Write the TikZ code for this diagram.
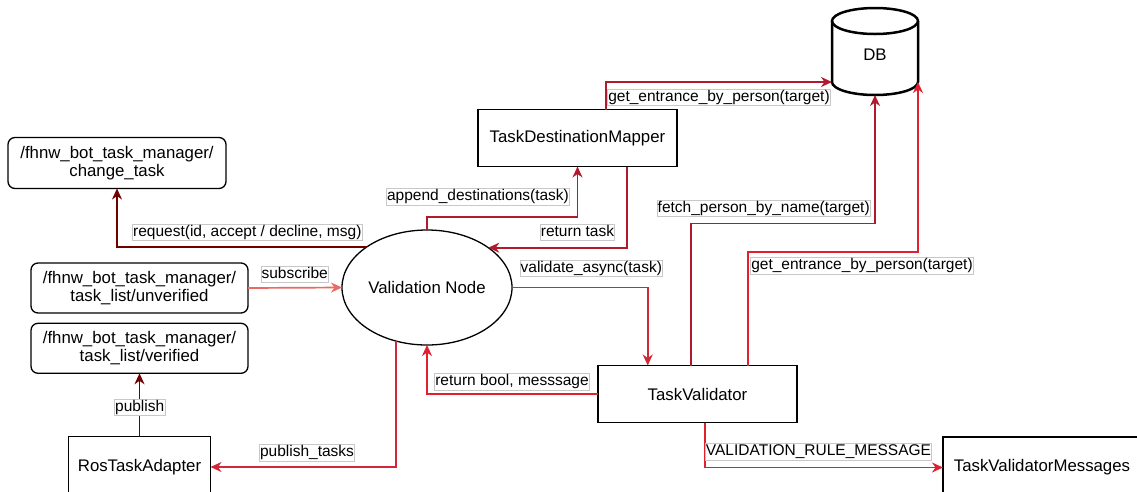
\documentclass[tikz,border=0pt]{standalone}
\usepackage{fontspec}
\setmainfont{Liberation Sans}
\usetikzlibrary{arrows.meta,calc,shapes.geometric}
\definecolor{cDark}{HTML}{6F0000}
\definecolor{cSub}{HTML}{EA6B66}
\definecolor{cCrim}{HTML}{B01A2C}
\definecolor{cRed}{HTML}{E0202F}
\definecolor{cMid}{HTML}{D02838}
\definecolor{lblline}{HTML}{C8C8C8}
\begin{document}
\begin{tikzpicture}[x=1pt,y=-1pt,
  every node/.style={font=\fontsize{16.8}{19}\selectfont, outer sep=0pt},
  box/.style={draw, line width=1.3pt, inner sep=0pt, align=center},
  rbox/.style={box, rounded corners=7pt},
  lbl/.style={fill=white, draw=lblline, line width=0.5pt, inner sep=0.6pt,
    font=\fontsize{15.5}{17}\selectfont, text height=11.6pt, text depth=3.6pt},
  conn/.style={line width=1.7pt, -{Stealth[length=11pt,width=10pt,inset=3.5pt]}},
]
\useasboundingbox (0,0) rectangle (1137,491);
\clip (0,0) rectangle (1137,491);

% nodes
\node[box, minimum width=199pt, minimum height=57pt] (TDM) at (577.5,138) {TaskDestinationMapper};
\node[box, minimum width=199pt, minimum height=57pt] (TV) at (697.5,394) {TaskValidator};
\node[box, minimum width=198pt, minimum height=61pt] (TVM) at (1042,467.5) {TaskValidatorMessages};
\node[box, minimum width=142pt, minimum height=61pt] (RTA) at (139.5,467) {RosTaskAdapter};
\node[rbox, minimum width=217pt, minimum height=50pt] (VER) at (139.5,348.3) {/fhnw\_bot\_task\_manager/\\[-1pt]task\_list/verified};
\node[rbox, minimum width=217pt, minimum height=50pt] (UNV) at (139.5,288) {/fhnw\_bot\_task\_manager/\\[-1pt]task\_list/unverified};
\node[rbox, minimum width=218pt, minimum height=51pt] (CT) at (117,163) {/fhnw\_bot\_task\_manager/\\[-1pt]change\_task};
\node[ellipse, draw, line width=1.3pt, inner sep=0pt, minimum width=170pt, minimum height=115pt] (VN) at (427,287.5) {Validation Node};

% DB cylinder
\node[minimum width=86pt, minimum height=87pt, inner sep=0pt] (DB) at (875,51.5) {};
\draw[line width=2.5pt] ($(DB.north)+(0,13)$) ellipse [x radius=43, y radius=13];
\draw[line width=2.5pt] ($(DB.north west)+(0,13)$) -- ($(DB.south west)+(0,-13)$)
  arc[start angle=180, end angle=0, x radius=43, y radius=13] -- ($(DB.north east)+(0,13)$);
\node at ($(DB.center)+(0,3)$) (DBt) {DB};

% connectors
\draw[conn, cDark] (VN.146) -| (CT.south);
\draw[conn, cSub] (UNV.east) -- (VN.west);
\draw[conn, cDark] (RTA.north) -- (VER.south);
\draw[conn, cMid] (VN.240.7) |- (RTA.east);
\draw[conn, cCrim] (VN.north) -- ++(0,-13.3) -| (TDM.south);
\draw[conn, cCrim] ($(TDM.south)!0.5!(TDM.south east)$) |- (VN.33.9);
\draw[conn, cMid] (VN.east) -| ($(TV.north west)!0.5!(TV.north)$);
\draw[conn, cRed] (TV.west) -| (VN.south);
\draw[conn, cCrim] ([xshift=28.5pt]TDM.north) |- ([yshift=13pt]DB.south west);
\draw[conn, cCrim] ([xshift=-6.5pt]TV.north) -- ++(0,-142) -| (DB.south);
\draw[conn, cRed] ([xshift=50.2pt]TV.north) -- ++(0,-113.8) -| ([yshift=13pt]DB.south east);
\draw[conn, cRed] ([xshift=7.5pt]TV.south) |- (TVM.west);

% labels
\node[lbl] (l1) at (247.3,232) {request(id, accept / decline, msg)};
\node[lbl] (l2) at (294.7,274.3) {subscribe};
\node[lbl] (l3) at (139.7,407.3) {publish};
\node[lbl] (l4) at (307,452.7) {publish\_tasks};
\node[lbl] (l5) at (478,196.7) {append\_destinations(task)};
\node[lbl] (l6) at (577.5,232.3) {return task};
\node[lbl] (l7) at (591.3,268.3) {validate\_async(task)};
\node[lbl] (l8) at (512,381.7) {return bool, messsage};
\node[lbl] (l9) at (763.7,208.3) {fetch\_person\_by\_name(target)};
\node[lbl] (l10) at (862,265.7) {get\_entrance\_by\_person(target)};
\node[lbl] (l11) at (719,97) {get\_entrance\_by\_person(target)};
\node[lbl] (l12) at (818.5,451.7) {VALIDATION\_RULE\_MESSAGE};
\end{tikzpicture}
\end{document}
